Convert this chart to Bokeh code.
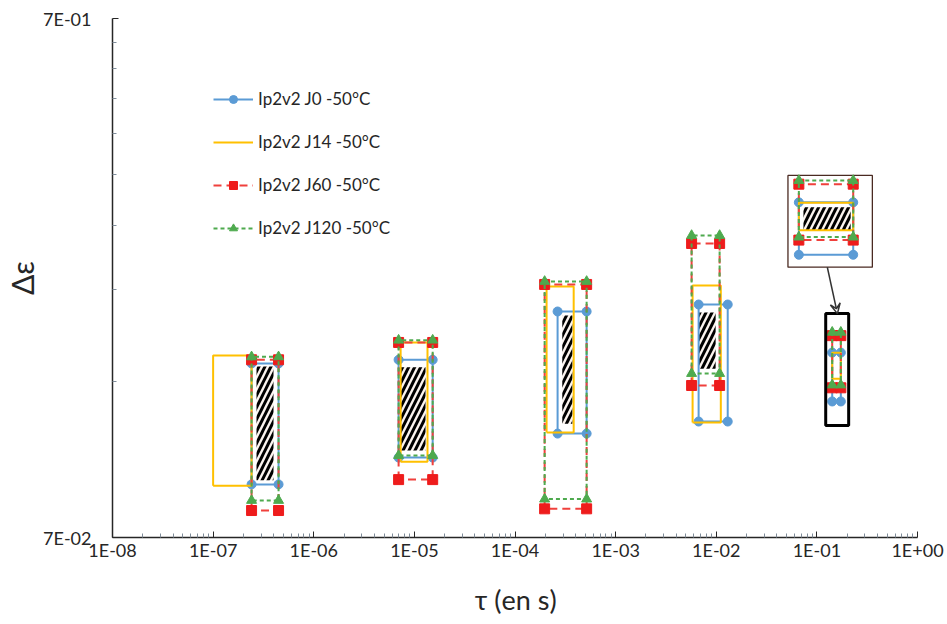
from bokeh.plotting import figure
from bokeh.models import Range1d, LogScale, FixedTicker, Legend, LegendItem, Arrow, VeeHead
from bokeh.embed import file_html
from bokeh.resources import INLINE

# ---------------- data ----------------
series_names = ["Ip2v2 J0 -50°C", "Ip2v2 J14 -50°C", "Ip2v2 J60 -50°C", "Ip2v2 J120 -50°C"]

# each series: one rectangle per decade group (x1, x2 = tau bounds; y1, y2 = delta-epsilon bounds)
j0_x1 = [2.41e-7, 6.97e-6, 2.65e-4, 6.68e-3, 0.142]
j0_x2 = [4.47e-7, 1.52e-5, 5.15e-4, 1.30e-2, 0.173]
j0_y1 = [0.0886, 0.0998, 0.111, 0.1171, 0.128]
j0_y2 = [0.1515, 0.154, 0.1908, 0.1968, 0.159]

j14_x1 = [1.0e-7, 7.3e-6, 2.06e-4, 5.82e-3, 0.142]
j14_x2 = [2.41e-7, 1.35e-5, 3.83e-4, 1.11e-2, 0.173]
j14_y1 = [0.0881, 0.098, 0.1115, 0.1166, 0.1416]
j14_y2 = [0.157, 0.1663, 0.2132, 0.2142, 0.1588]

j60_x1 = [2.41e-7, 6.97e-6, 1.97e-4, 5.69e-3, 0.142]
j60_x2 = [4.47e-7, 1.52e-5, 5.15e-4, 1.08e-2, 0.173]
j60_y1 = [0.0789, 0.0905, 0.0795, 0.1374, 0.136]
j60_y2 = [0.154, 0.1663, 0.2151, 0.258, 0.1714]

j120_x1 = [2.41e-7, 6.97e-6, 1.97e-4, 5.69e-3, 0.142]
j120_x2 = [4.47e-7, 1.52e-5, 5.15e-4, 1.08e-2, 0.173]
j120_y1 = [0.0825, 0.1007, 0.083, 0.1449, 0.1377]
j120_y2 = [0.156, 0.168, 0.218, 0.2673, 0.174]

# hatched overlap zones
hatch_x1 = [2.70e-7, 7.3e-6, 2.95e-4, 6.68e-3, 0.1444]
hatch_x2 = [3.98e-7, 1.29e-5, 3.72e-4, 9.86e-3, 0.1714]
hatch_y1 = [0.0902, 0.103, 0.116, 0.148, 0.1415]
hatch_y2 = [0.1495, 0.149, 0.1875, 0.190, 0.1558]

x_ticks = [1e-8, 1e-7, 1e-6, 1e-5, 1e-4, 1e-3, 1e-2, 1e-1, 1e0]
x_labels = ["1E-08", "1E-07", "1E-06", "1E-05", "1E-04", "1E-03", "1E-02", "1E-01", "1E+00"]
y_ticks = [0.07, 0.7]
y_labels = ["7E-02", "7E-01"]

# inset / annotation geometry (layout, not data)
INSET_X_RANGE = (0.01174, 0.2185)
INSET_Y_RANGE = (0.03977, 0.340)
INSET_BOX = dict(left=0.0516, right=0.356, bottom=0.2322, top=0.349)
ZOOM_BOX = dict(left=0.1224, right=0.207, bottom=0.1151, top=0.189)
ARROW = dict(x_start=0.127, y_start=0.2322, x_end=0.160, y_end=0.189)

FONT = "Lato"

# ---------------- figure ----------------
p = figure(width=947, height=624, x_axis_type="log", y_axis_type="log",
           x_range=Range1d(1e-8, 1.0), y_range=Range1d(0.07, 0.7),
           output_backend="svg", toolbar_location=None,
           min_border_left=112, min_border_right=30, min_border_top=18, min_border_bottom=87)
p.outline_line_color = None
p.grid.visible = False
p.background_fill_color = "white"

p.extra_x_ranges = {"ix": Range1d(*INSET_X_RANGE)}
p.extra_y_ranges = {"iy": Range1d(*INSET_Y_RANGE)}
p.extra_x_scales = {"ix": LogScale()}
p.extra_y_scales = {"iy": LogScale()}

# axes
xminor = [m * t for t in x_ticks[:-1] for m in range(2, 10)]
yminor = [0.07 * m for m in range(2, 10)]
p.xaxis.ticker = FixedTicker(ticks=x_ticks, minor_ticks=xminor)
p.yaxis.ticker = FixedTicker(ticks=y_ticks, minor_ticks=yminor)
p.xaxis.major_label_overrides = {t: l for t, l in zip(x_ticks, x_labels)}
p.yaxis.major_label_overrides = {t: l for t, l in zip(y_ticks, y_labels)}
for ax in (p.xaxis[0], p.yaxis[0]):
    ax.axis_line_color = "#262626"
    ax.axis_line_width = 1.5
    ax.major_tick_in = 6
    ax.major_tick_out = 0
    ax.minor_tick_in = 4
    ax.minor_tick_out = 0
    ax.major_tick_line_color = "#262626"
    ax.minor_tick_line_color = "#7f8c99"
    ax.major_label_text_font = FONT
    ax.major_label_text_font_size = "18px"
    ax.major_label_text_color = "#262626"
    ax.axis_label_text_font = FONT
    ax.axis_label_text_font_style = "normal"
    ax.axis_label_text_color = "#262626"
p.xaxis.major_label_standoff = 1
p.yaxis.major_label_standoff = 21
p.xaxis.axis_label = "τ (en s)"
p.xaxis.axis_label_text_font_size = "27px"
p.xaxis.axis_label_standoff = 19
p.yaxis.axis_label = "Δε"
p.yaxis.axis_label_text_font_size = "30px"
p.yaxis.axis_label_standoff = 0


def rects(x1, x2, y1, y2, idx):
    xs = [[x1[i], x1[i], x2[i], x2[i], x1[i]] for i in idx]
    ys = [[y1[i], y2[i], y2[i], y1[i], y1[i]] for i in idx]
    return xs, ys


def corners(x1, x2, y1, y2, idx):
    cx, cy = [], []
    for i in idx:
        cx += [x1[i], x1[i], x2[i], x2[i]]
        cy += [y1[i], y2[i], y2[i], y1[i]]
    return cx, cy


series = [
    dict(d=(j0_x1, j0_x2, j0_y1, j0_y2), color="#5B9BD5", dash="solid", marker="circle", mcolor="#5B9BD5", size=9),
    dict(d=(j14_x1, j14_x2, j14_y1, j14_y2), color="#FFC000", dash="solid", marker=None, mcolor=None, size=0),
    dict(d=(j60_x1, j60_x2, j60_y1, j60_y2), color="#F0403C", dash="8 5", marker="square", mcolor="#EE1C1C", size=10),
    dict(d=(j120_x1, j120_x2, j120_y1, j120_y2), color="#4EAA4E", dash="4 3", marker="triangle", mcolor="#4EAA4E", size=10),
]

main_idx = [0, 1, 2, 3, 4]
inset_idx = [4]

# inset frame (white card)
p.quad(**{k: [v] for k, v in INSET_BOX.items()}, fill_color="white", line_color="#4a2a22", line_width=1.3)

# hatched zones
for rng, kw in ((range(0, 4), {}), (inset_idx, dict(x_range_name="ix", y_range_name="iy"))):
    p.quad(left=[hatch_x1[i] for i in rng], right=[hatch_x2[i] for i in rng],
           bottom=[hatch_y1[i] for i in rng], top=[hatch_y2[i] for i in rng],
           fill_color="#fbf4ef", line_color=None, hatch_pattern="/", hatch_color="black",
           hatch_weight=3, hatch_scale=12, **kw)

legend_items = []
for s, name in zip(series, series_names):
    renderers = []
    for idx, kw in ((main_idx, {}), (inset_idx, dict(x_range_name="ix", y_range_name="iy"))):
        xs, ys = rects(*s["d"], idx)
        ml = p.multi_line(xs=xs, ys=ys, line_color=s["color"], line_width=2, line_dash=s["dash"], **kw)
        rs = [ml]
        if s["marker"]:
            cx, cy = corners(*s["d"], idx)
            sc = p.scatter(cx, cy, marker=s["marker"], size=s["size"], fill_color=s["mcolor"],
                           line_color=s["mcolor"], **kw)
            rs.append(sc)
        if not kw:
            renderers = rs
    legend_items.append(LegendItem(label=name, renderers=renderers))

# zoom box and arrow
p.quad(**{k: [v] for k, v in ZOOM_BOX.items()}, fill_color=None, line_color="black", line_width=3)
p.add_layout(Arrow(end=VeeHead(size=10, line_color="#333333", line_width=1.5, fill_color=None),
                   line_color="#333333", line_width=1.5, **ARROW))

legend = Legend(items=legend_items, location=(101, 299), orientation="vertical",
                border_line_color=None, background_fill_alpha=0, padding=0, margin=0,
                spacing=22, label_height=20, glyph_height=20, glyph_width=40, label_standoff=5,
                label_text_font=FONT, label_text_font_size="17px", label_text_color="#262626")
p.add_layout(legend)

open("out.html", "w").write(file_html(p, INLINE))
